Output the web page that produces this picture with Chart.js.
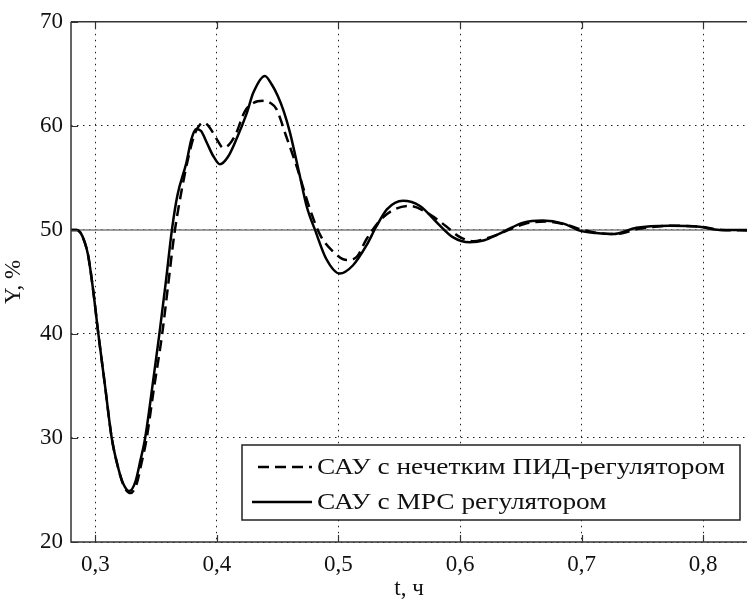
<!DOCTYPE html>
<html>
<head>
<meta charset="utf-8">
<script src="https://cdn.jsdelivr.net/npm/chart.js@4.4.1/dist/chart.umd.min.js"></script>
<style>
  html, body { margin: 0; padding: 0; background: #fff; }
  #wrap { width: 747px; height: 603px; }
</style>
</head>
<body>
<div id="wrap"><canvas id="respChart" width="747" height="603"></canvas></div>
<script>
// values
var tPid = [0.28, 0.285, 0.288, 0.291, 0.294, 0.298, 0.3025, 0.308, 0.3135, 0.318, 0.323, 0.329, 0.334, 0.338, 0.342, 0.348, 0.355, 0.36, 0.365, 0.371, 0.377, 0.382, 0.386, 0.389, 0.393, 0.397, 0.401, 0.405, 0.41, 0.4155, 0.423, 0.43, 0.438, 0.444, 0.449, 0.457, 0.4656, 0.4765, 0.485, 0.4957, 0.507, 0.515, 0.523, 0.534, 0.545, 0.559, 0.575, 0.589, 0.6, 0.611, 0.622, 0.632, 0.64, 0.654, 0.67, 0.687, 0.701, 0.714, 0.728, 0.747, 0.774, 0.798, 0.815, 0.836];
var yPid = [50, 50, 49.7, 48.9, 47.6, 44.4, 40, 35, 30, 27.5, 25.5, 24.7, 25.6, 27.6, 29.8, 34.6, 40, 44.8, 49.6, 53.8, 57.2, 59.3, 60.1, 60.3, 60.0, 59.3, 58.5, 57.9, 58.2, 59.2, 61.4, 62.2, 62.4, 62.2, 61.6, 59.0, 56.1, 52.0, 49.5, 47.9, 47.1, 47.4, 49.1, 50.9, 51.9, 52.3, 51.5, 50.3, 49.3, 48.9, 49.2, 49.6, 50.0, 50.6, 50.8, 50.5, 50.0, 49.7, 49.6, 50.1, 50.4, 50.3, 50.0, 49.95];

var tMpc = [0.28, 0.285, 0.288, 0.291, 0.294, 0.298, 0.3025, 0.308, 0.3135, 0.318, 0.323, 0.328, 0.333, 0.337, 0.341, 0.347, 0.3527, 0.358, 0.363, 0.3675, 0.375, 0.379, 0.383, 0.387, 0.392, 0.397, 0.4025, 0.409, 0.416, 0.4245, 0.43, 0.4395, 0.445, 0.45, 0.455, 0.46, 0.468, 0.474, 0.481, 0.49, 0.501, 0.512, 0.523, 0.531, 0.54, 0.553, 0.567, 0.581, 0.594, 0.608, 0.62, 0.63, 0.637, 0.652, 0.668, 0.685, 0.699, 0.712, 0.726, 0.745, 0.772, 0.797, 0.8135, 0.836];
var yMpc = [50, 50, 49.7, 48.9, 47.6, 44.4, 40, 35, 30, 27.5, 25.6, 24.9, 25.8, 27.8, 30, 35, 40, 45, 50, 53.3, 56.5, 58.7, 59.7, 59.5, 58.3, 57.1, 56.3, 57.0, 58.7, 61.2, 63.2, 64.8, 64.0, 62.9, 61.4, 59.4, 55.3, 52.2, 49.9, 47.2, 45.8, 46.6, 48.5, 50.3, 52.0, 52.8, 52.3, 50.7, 49.3, 48.8, 49.0, 49.5, 49.9, 50.7, 50.9, 50.6, 49.9, 49.7, 49.6, 50.2, 50.4, 50.3, 50.0, 50.0];

var seriesNames = ['САУ с нечетким ПИД-регулятором', 'САУ с МРС регулятором'];
var xTickValues = [0.3, 0.4, 0.5, 0.6, 0.7, 0.8];
var yTickValues = [20, 30, 40, 50, 60, 70];
var SETPOINT = 50;

var FONT = 'Liberation Serif';

function toPoints(ts, ys) {
    return ts.map(function (t, i) { return { x: t, y: ys[i] }; });
}

// reference line, frame, inward ticks and boxed legend
var framePlugin = {
    id: 'frame',
    beforeDatasetsDraw: function (chart) {
        var ctx = chart.ctx, a = chart.chartArea;
        var py = chart.scales.y.getPixelForValue(SETPOINT);
        ctx.save();
        ctx.strokeStyle = '#7c7c7c';
        ctx.lineWidth = 1.5;
        ctx.beginPath();
        ctx.moveTo(a.left, py);
        ctx.lineTo(a.right, py);
        ctx.stroke();
        ctx.restore();
    },
    afterDraw: function (chart) {
        var ctx = chart.ctx, a = chart.chartArea;
        var xs = chart.scales.x, ys = chart.scales.y;
        ctx.save();
        ctx.strokeStyle = '#333';
        ctx.lineWidth = 1.5;
        ctx.setLineDash([]);
        ctx.beginPath();
        ctx.moveTo(a.left, a.top);
        ctx.lineTo(a.right, a.top);
        ctx.moveTo(a.left, a.top);
        ctx.lineTo(a.left, a.bottom);
        ctx.lineTo(a.right, a.bottom);
        ctx.stroke();

        ctx.lineWidth = 1.2;
        ctx.beginPath();
        xTickValues.forEach(function (v) {
            var px = Math.round(xs.getPixelForValue(v)) + 0.5;
            ctx.moveTo(px, a.bottom); ctx.lineTo(px, a.bottom - 7);
            ctx.moveTo(px, a.top); ctx.lineTo(px, a.top + 7);
        });
        yTickValues.forEach(function (v) {
            var py = Math.round(ys.getPixelForValue(v)) + 0.5;
            ctx.moveTo(a.left, py); ctx.lineTo(a.left + 7, py);
        });
        ctx.stroke();

        // legend
        var bx = 242, by = 445, bw = 498, bh = 75;
        ctx.fillStyle = '#fff';
        ctx.fillRect(bx, by, bw, bh);
        ctx.strokeStyle = '#222';
        ctx.lineWidth = 1.5;
        ctx.strokeRect(bx, by, bw, bh);

        var rows = [by + 22, by + 57];
        chart.data.datasets.forEach(function (ds, i) {
            ctx.strokeStyle = '#000';
            ctx.lineWidth = 2.5;
            ctx.setLineDash(ds.borderDash || []);
            ctx.beginPath();
            ctx.moveTo(i === 0 ? 258 : 252, rows[i]);
            ctx.lineTo(312, rows[i]);
            ctx.stroke();
            ctx.setLineDash([]);
            ctx.save();
            ctx.translate(317, rows[i] + 1);
            ctx.scale(1.14, 1);
            ctx.fillStyle = '#111';
            ctx.font = '24px "' + FONT + '"';
            ctx.textBaseline = 'middle';
            ctx.fillText(ds.label, 0, 0);
            ctx.restore();
        });
        ctx.restore();
    }
};

var ctx = document.getElementById('respChart').getContext('2d');
var respChart = new Chart(ctx, {
    type: 'line',
    data: {
        datasets: [{
            label: seriesNames[0],
            data: toPoints(tPid, yPid),
            borderColor: '#000',
            borderWidth: 2.5,
            borderDash: [11, 6],
            pointRadius: 0,
            cubicInterpolationMode: 'monotone',
            fill: false
        }, {
            label: seriesNames[1],
            data: toPoints(tMpc, yMpc),
            borderColor: '#000',
            borderWidth: 2.5,
            pointRadius: 0,
            cubicInterpolationMode: 'monotone',
            fill: false
        }]
    },
    options: {
        responsive: false,
        animation: false,
        layout: { padding: { top: 18, right: 0, left: 0, bottom: 0 } },
        plugins: {
            legend: { display: false },
            tooltip: { enabled: false }
        },
        scales: {
            x: {
                type: 'linear',
                min: 0.28,
                max: 0.836,
                afterFit: function (s) { s.height = 61; },
                afterBuildTicks: function (s) {
                    s.ticks = xTickValues.map(function (v) { return { value: v }; });
                },
                border: { display: false, dash: [1.5, 4.5] },
                grid: { color: '#222', lineWidth: 1, drawTicks: false },
                ticks: {
                    padding: 9,
                    color: '#111',
                    font: { family: FONT, size: 23 },
                    callback: function (v) { return v.toFixed(1).replace('.', ','); }
                },
                title: {
                    display: true,
                    text: 't, ч',
                    color: '#111',
                    padding: 0,
                    font: { family: FONT, size: 23 }
                }
            },
            y: {
                min: 20,
                max: 70,
                afterFit: function (s) { s.width = 71; },
                afterBuildTicks: function (s) {
                    s.ticks = yTickValues.map(function (v) { return { value: v }; });
                },
                border: { display: false, dash: [1.5, 4.5] },
                grid: { color: '#222', lineWidth: 1, drawTicks: false },
                ticks: {
                    padding: 8,
                    color: '#111',
                    font: { family: FONT, size: 23 }
                },
                title: {
                    display: true,
                    text: 'Y, %',
                    color: '#111',
                    padding: 0,
                    font: { family: FONT, size: 23 }
                }
            }
        }
    },
    plugins: [framePlugin]
});
</script>
</body>
</html>
